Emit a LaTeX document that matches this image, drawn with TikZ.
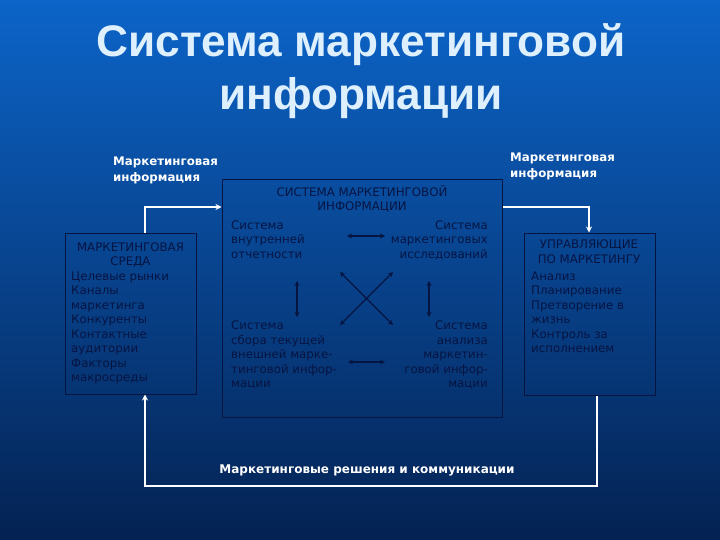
\documentclass[tikz,border=0pt]{standalone}
\usepackage{fontspec}
\setmainfont{DejaVu Sans}
\newfontfamily\titlefont{Liberation Sans}
\usetikzlibrary{arrows.meta}
\definecolor{bgtop}{RGB}{12,100,200}
\definecolor{bgmid}{RGB}{8,62,146}
\definecolor{bgbot}{RGB}{4,34,82}
\definecolor{navy}{RGB}{6,20,66}
\definecolor{titlecol}{RGB}{222,240,253}
\tikzset{
  box/.style={draw=navy, line width=1pt, inner sep=0pt},
  btext/.style={text=navy, inner sep=0pt, font=\fontsize{11.8}{14.5}\selectfont},
  lbl/.style={text=white, inner sep=0pt, align=left, font=\bfseries\fontsize{11.8}{15.5}\selectfont},
  conn/.style={draw=white, line width=2.2pt, -{Stealth[length=6pt,width=6pt]}},
  inarr/.style={draw=navy, line width=1.3pt, {Stealth[length=5pt,width=5pt]}-{Stealth[length=5pt,width=5pt]}},
  ttl/.style={inner sep=0pt, anchor=base, text=titlecol, font=\titlefont\bfseries\fontsize{44.2}{50}\selectfont}
}
\begin{document}
\begin{tikzpicture}[x=1pt,y=-1pt]
\shade[top color=bgtop, middle color=bgmid, bottom color=bgbot] (0,0) rectangle (720,540);
\useasboundingbox (0,0) rectangle (720,540);
% title
\node[ttl] (t1) at (361,57) {Система маркетинговой};
\node[ttl] (t2) at (361,110) {информации};
% labels
\node[lbl, anchor=north west] (linfo) at (113,157) {Маркетинговая\\информация};
\node[lbl, anchor=north west] (rinfo) at (510,153) {Маркетинговая\\информация};
\node[lbl, anchor=center, font=\bfseries\fontsize{12}{15}\selectfont] (dec) at (367,470) {Маркетинговые решения и коммуникации};
% boxes
\node[box, minimum width=131pt, minimum height=161pt] (lbox) at (130.5,313.5) {};
\node[box, minimum width=280pt, minimum height=237pt] (cbox) at (362,298.5) {};
\node[box, minimum width=131pt, minimum height=162pt] (rbox) at (589.5,314) {};
% left box text
\node[btext, align=center, anchor=north] (lhead) at (130.5,242.5) {МАРКЕТИНГОВАЯ\\СРЕДА};
\node[btext, align=left, anchor=north west] (llist) at (71,271.5) {Целевые рынки\\Каналы\\маркетинга\\Конкуренты\\Контактные\\аудитории\\Факторы\\макросреды};
% right box text
\node[btext, align=center, anchor=north] (rhead) at (589,240) {УПРАВЛЯЮЩИЕ\\ПО МАРКЕТИНГУ};
\node[btext, align=left, anchor=north west] (rlist) at (531,271.5) {Анализ\\Планирование\\Претворение в\\жизнь\\Контроль за\\исполнением};
% center text
\node[btext, align=center, anchor=north] (chead) at (362,185) {СИСТЕМА МАРКЕТИНГОВОЙ\\ИНФОРМАЦИИ};
\node[btext, align=left, anchor=north west] (s1) at (231,220.5) {Система\\внутренней\\отчетности};
\node[btext, align=right, anchor=north east] (s2) at (488,220.5) {Система\\маркетинговых\\исследований};
\node[btext, align=left, anchor=north west] (s3) at (231,321) {Система\\сбора текущей\\внешней марке-\\тинговой инфор-\\мации};
\node[btext, align=right, anchor=north east] (s4) at (488,321) {Система\\анализа\\маркетин-\\говой инфор-\\мации};
% inner arrows
\coordinate (a1) at (347,236); \coordinate (a2) at (385,236);
\coordinate (b1) at (348,362); \coordinate (b2) at (385,362);
\coordinate (v1) at (297,281); \coordinate (v2) at (297,317);
\coordinate (w1) at (429,281); \coordinate (w2) at (429,317);
\coordinate (x1) at (340,272); \coordinate (x2) at (393,325);
\coordinate (y1) at (393,272); \coordinate (y2) at (340,325);
\draw[inarr] (a1) -- (a2);
\draw[inarr] (b1) -- (b2);
\draw[inarr] (v1) -- (v2);
\draw[inarr] (w1) -- (w2);
\draw[inarr] (x1) -- (x2);
\draw[inarr] (y1) -- (y2);
% outer connectors
\coordinate (c1) at (145,207);
\coordinate (c2) at (589,207);
\coordinate (c3) at (597,486);
\coordinate (c4) at (145,486);
\draw[conn] (lbox.north -| c1) |- (cbox.west |- c1);
\draw[conn] (cbox.east |- c2) -| (rbox.north -| c2);
\draw[conn] (rbox.south -| c3) |- (c4) -- (lbox.south -| c4);
\end{tikzpicture}
\end{document}
